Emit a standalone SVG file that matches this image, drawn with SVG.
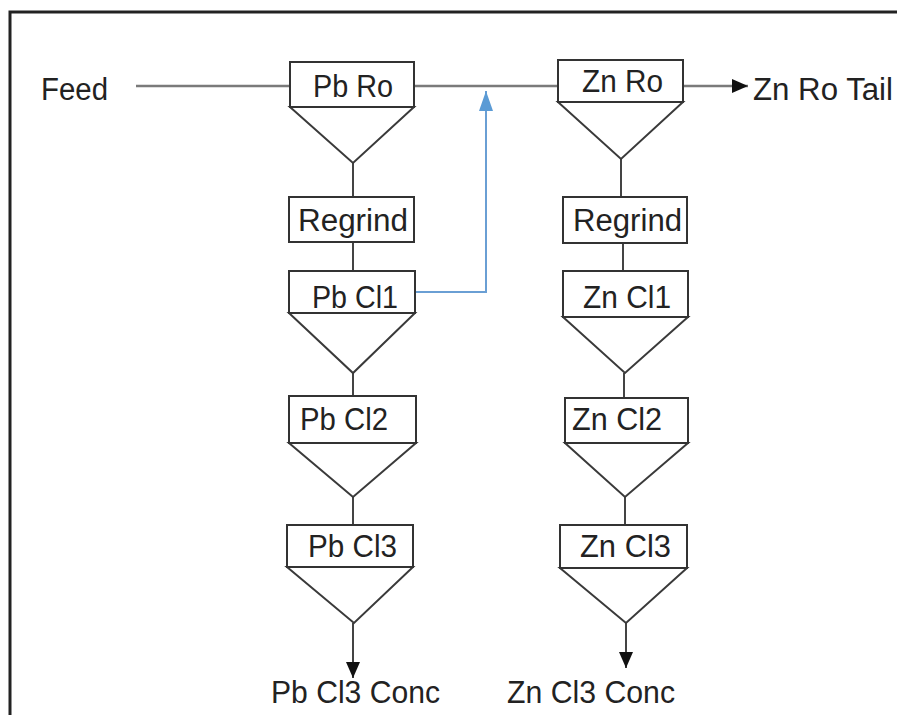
<svg xmlns="http://www.w3.org/2000/svg" width="897" height="715" viewBox="0 0 897 715">
<defs>
<style>
.box{fill:#fff;stroke:#333;stroke-width:2}
.tri{fill:#fff;stroke:#3a3a3a;stroke-width:2;stroke-linejoin:miter}
.t{font-family:"Liberation Sans",Arial,sans-serif;font-size:31px;fill:#222}
.ln{stroke:#444;stroke-width:2;fill:none}
.gl{stroke:#7a7a7a;stroke-width:2.5;fill:none}
.bl{stroke:#6a9fd4;stroke-width:2;fill:none}
</style>
<marker id="ab2" markerWidth="16" markerHeight="14" refX="16" refY="7" orient="auto" markerUnits="userSpaceOnUse" viewBox="0 0 16 14"><path d="M0,0 L16,7 L0,14 Z" fill="#111"/></marker>
<marker id="abb" markerWidth="20" markerHeight="14" refX="20" refY="7" orient="auto" markerUnits="userSpaceOnUse" viewBox="0 0 20 14"><path d="M0,0 L20,7 L0,14 Z" fill="#5b9bd5"/></marker>
</defs>
<rect width="897" height="715" fill="#fff"/>
<path d="M10,715 L10,12 L897,12" stroke="#222" stroke-width="3" fill="none"/>

<g id="connectors">
<line class="gl" x1="136" y1="86" x2="290" y2="86"/>
<line class="gl" x1="414" y1="86" x2="558" y2="86"/>
<line class="gl" x1="683" y1="86" x2="748" y2="86" marker-end="url(#ab2)"/>
<polyline class="bl" points="415,292 486,292 486,91" marker-end="url(#abb)"/>
<line class="ln" x1="353" y1="163" x2="353" y2="197"/>
<line class="ln" x1="353" y1="242" x2="353" y2="271"/>
<line class="ln" x1="353" y1="373" x2="353" y2="396"/>
<line class="ln" x1="353" y1="497" x2="353" y2="525"/>
<line class="ln" x1="353" y1="623" x2="353" y2="678" marker-end="url(#ab2)"/>
<line class="ln" x1="621" y1="159" x2="621" y2="197"/>
<line class="ln" x1="623" y1="243" x2="623" y2="271"/>
<line class="ln" x1="624" y1="373" x2="624" y2="398"/>
<line class="ln" x1="625" y1="497" x2="625" y2="525"/>
<line class="ln" x1="626" y1="623" x2="626" y2="668" marker-end="url(#ab2)"/>
</g>

<g id="feed"><text class="t" x="41" y="100" textLength="67" lengthAdjust="spacingAndGlyphs">Feed</text></g>

<g id="pb-ro">
<polygon class="tri" points="290,107 414,107 353,163"/>
<rect class="box" x="290" y="62" width="124" height="45"/>
<text class="t" x="313" y="97" textLength="80" lengthAdjust="spacingAndGlyphs">Pb Ro</text>
</g>
<g id="pb-regrind">
<rect class="box" x="289" y="197" width="125" height="45"/>
<text class="t" x="298" y="231" textLength="110" lengthAdjust="spacingAndGlyphs">Regrind</text>
</g>
<g id="pb-cl1">
<polygon class="tri" points="289,313 415,313 353,373"/>
<rect class="box" x="289" y="271" width="126" height="42"/>
<text class="t" x="312" y="308" textLength="86" lengthAdjust="spacingAndGlyphs">Pb Cl1</text>
</g>
<g id="pb-cl2">
<polygon class="tri" points="289,443 416,443 353,497"/>
<rect class="box" x="289" y="396" width="127" height="47"/>
<text class="t" x="300" y="430" textLength="88" lengthAdjust="spacingAndGlyphs">Pb Cl2</text>
</g>
<g id="pb-cl3">
<polygon class="tri" points="287,567 413,567 354,623"/>
<rect class="box" x="287" y="525" width="126" height="42"/>
<text class="t" x="308" y="557" textLength="89" lengthAdjust="spacingAndGlyphs">Pb Cl3</text>
</g>
<g id="pb-conc"><text class="t" x="271" y="703" textLength="169" lengthAdjust="spacingAndGlyphs">Pb Cl3 Conc</text></g>

<g id="zn-ro">
<polygon class="tri" points="558,102 683,102 621,159"/>
<rect class="box" x="558" y="60" width="125" height="42"/>
<text class="t" x="582" y="92" textLength="81" lengthAdjust="spacingAndGlyphs">Zn Ro</text>
</g>
<g id="zn-tail"><text class="t" x="753" y="100" textLength="140" lengthAdjust="spacingAndGlyphs">Zn Ro Tail</text></g>
<g id="zn-regrind">
<rect class="box" x="563" y="197" width="124" height="46"/>
<text class="t" x="573" y="231" textLength="109" lengthAdjust="spacingAndGlyphs">Regrind</text>
</g>
<g id="zn-cl1">
<polygon class="tri" points="563,317 688,317 625,373"/>
<rect class="box" x="563" y="271" width="125" height="46"/>
<text class="t" x="583" y="308" textLength="88" lengthAdjust="spacingAndGlyphs">Zn Cl1</text>
</g>
<g id="zn-cl2">
<polygon class="tri" points="565,443 688,443 625,497"/>
<rect class="box" x="565" y="398" width="123" height="45"/>
<text class="t" x="572" y="430" textLength="90" lengthAdjust="spacingAndGlyphs">Zn Cl2</text>
</g>
<g id="zn-cl3">
<polygon class="tri" points="560,568 687,568 626,623"/>
<rect class="box" x="560" y="525" width="127" height="43"/>
<text class="t" x="580" y="557" textLength="91" lengthAdjust="spacingAndGlyphs">Zn Cl3</text>
</g>
<g id="zn-conc"><text class="t" x="507" y="703" textLength="168" lengthAdjust="spacingAndGlyphs">Zn Cl3 Conc</text></g>
</svg>
